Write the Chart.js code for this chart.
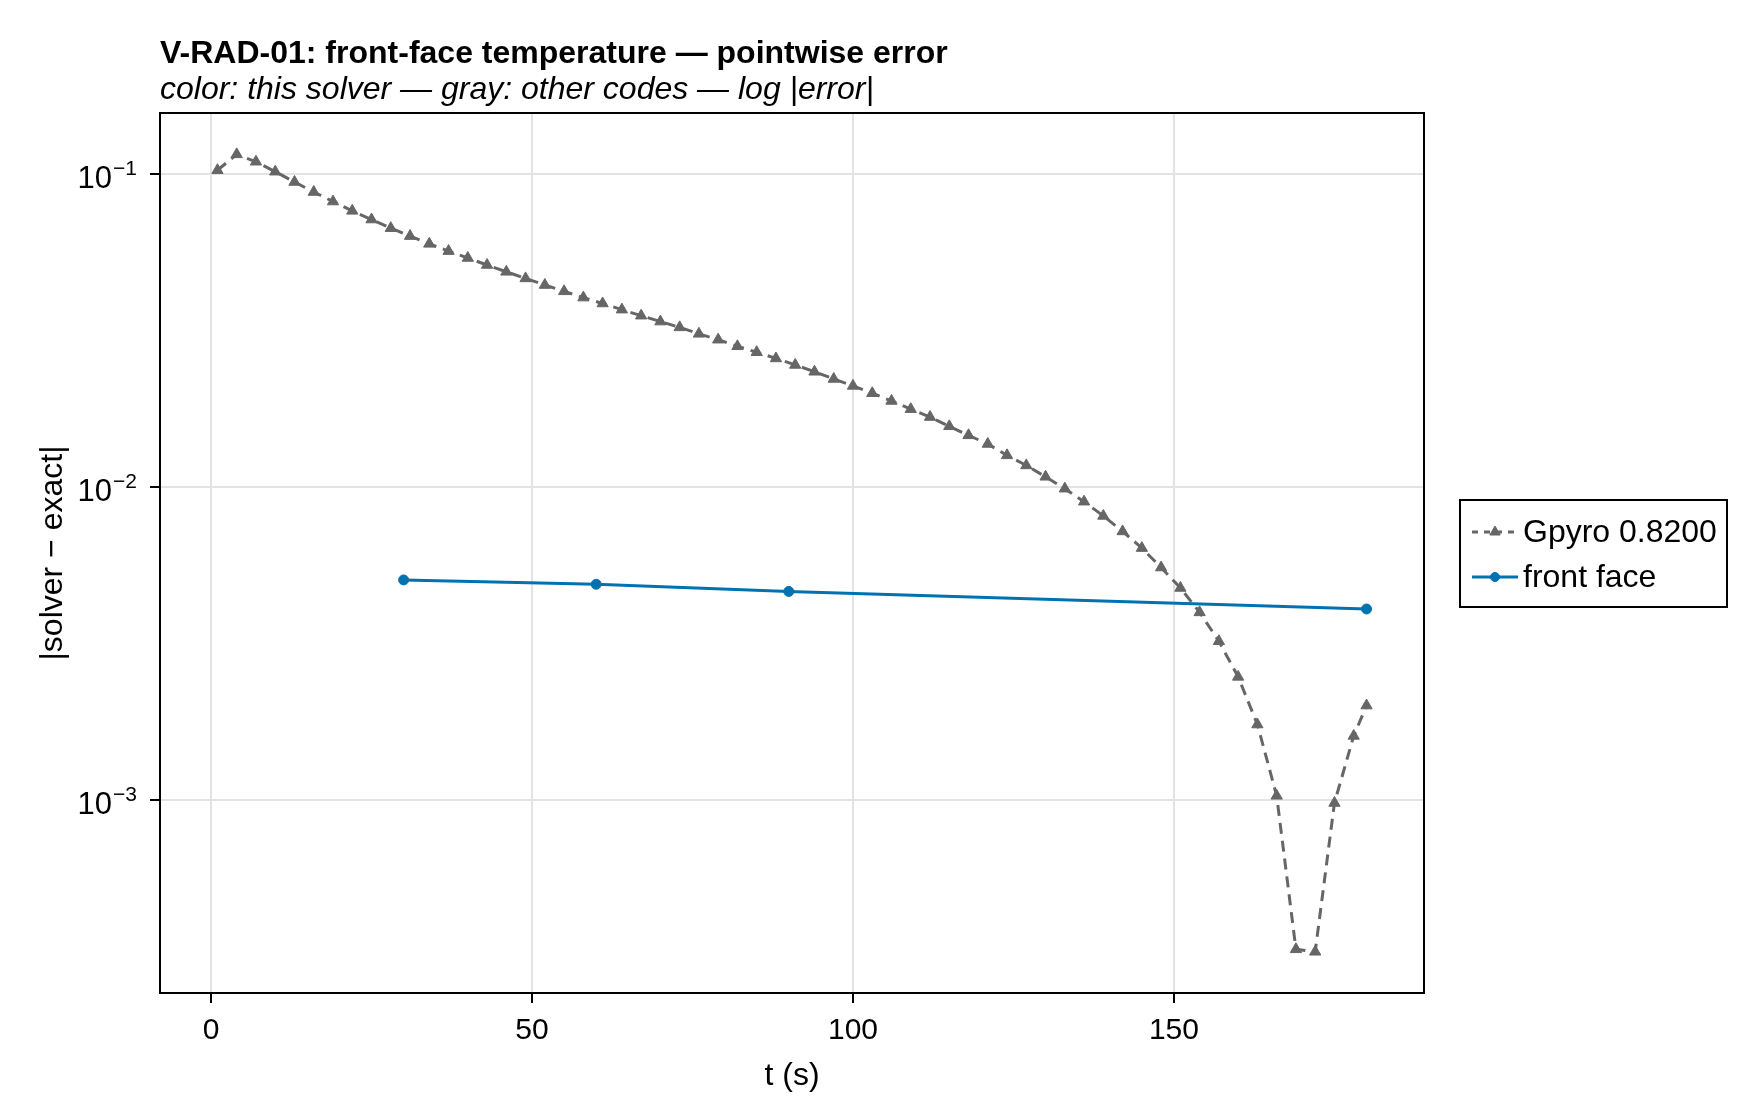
<!DOCTYPE html>
<html>
<head>
<meta charset="utf-8">
<title>V-RAD-01 front-face pointwise error</title>
<script src="https://cdn.jsdelivr.net/npm/chart.js@4.4.1/dist/chart.umd.min.js"></script>
<style>
  html, body { margin: 0; padding: 0; background: #fff; }
  canvas { display: block; }
</style>
</head>
<body>
<canvas id="errChart" width="1760" height="1120"></canvas>
<script>
// Gpyro 0.8200 reference code (gray, dashed, triangles)
const gpyroTime = [
    1, 4, 7, 10, 13, 16, 19, 22, 25, 28,
    31, 34, 37, 40, 43, 46, 49, 52, 55, 58,
    61, 64, 67, 70, 73, 76, 79, 82, 85, 88,
    91, 94, 97, 100, 103, 106, 109, 112, 115, 118,
    121, 124, 127, 130, 133, 136, 139, 142, 145, 148,
    151, 154, 157, 160, 163, 166, 169, 172, 175, 178,
    180
];
const gpyroError = [
    0.1026, 0.1153, 0.1092, 0.1015, 0.0941, 0.0874, 0.0815, 0.0761, 0.0714, 0.0670,
    0.0632, 0.0597, 0.0566, 0.0538, 0.0511, 0.0486, 0.0463, 0.0441, 0.0421, 0.0402,
    0.0385, 0.0368, 0.0352, 0.0337, 0.0323, 0.0308, 0.0295, 0.0281, 0.0269, 0.0257,
    0.0245, 0.0233, 0.0221, 0.0210, 0.0199, 0.0188, 0.0177, 0.0167, 0.0156, 0.0146,
    0.0137, 0.0126, 0.0117, 0.01076, 0.00986, 0.00896, 0.00807, 0.00720, 0.00637, 0.00552,
    0.00475, 0.00397, 0.00321, 0.00247, 0.00174, 0.00103, 0.000333, 0.000327, 0.000977, 0.00160,
    0.00200
];

// this solver, front face (blue)
const frontTime = [30, 60, 90, 180];
const frontError = [0.00504, 0.00488, 0.00463, 0.00407];

// axis ticks
const xTicks = [0, 50, 100, 150];
const yTickExponents = [-3, -2, -1];

const titleText = 'V-RAD-01: front-face temperature \u2014 pointwise error';
const subtitleText = 'color: this solver \u2014 gray: other codes \u2014 log |error|';
const xTitle = 't (s)';
const yTitle = '|solver \u2212 exact|';

const FONT = '"Liberation Sans", Arial, Helvetica, sans-serif';
const GRAY = '#666666';
const BLUE = '#0072b2';

const legendItems = [
    { label: 'Gpyro 0.8200', color: GRAY, dash: [6, 6], pointStyle: 'triangle', radius: 6 },
    { label: 'front face', color: BLUE, dash: [], pointStyle: 'circle', radius: 4.5 }
];

/**
 * Draws frame, titles, axis titles, 10^k tick labels and the legend box
 */
const decorations = {
    id: 'decorations',
    afterDraw(chart) {
        const { ctx, chartArea: a, scales } = chart;
        ctx.save();

        // Frame round the plot area
        ctx.strokeStyle = '#000';
        ctx.lineWidth = 2;
        ctx.setLineDash([]);
        ctx.strokeRect(a.left, a.top, a.right - a.left, a.bottom - a.top);

        // Title + subtitle
        ctx.fillStyle = '#000';
        ctx.textAlign = 'left';
        ctx.textBaseline = 'alphabetic';
        ctx.font = `bold 32px ${FONT}`;
        ctx.fillText(titleText, a.left, 63);
        ctx.font = `italic 32px ${FONT}`;
        ctx.fillText(subtitleText, a.left, 99);

        // Axis titles
        ctx.font = `32px ${FONT}`;
        ctx.textAlign = 'center';
        ctx.fillText(xTitle, (a.left + a.right) / 2, 1085);
        ctx.save();
        ctx.translate(53, (a.top + a.bottom) / 2);
        ctx.rotate(-Math.PI / 2);
        ctx.textBaseline = 'middle';
        ctx.fillText(yTitle, 0, 0);
        ctx.restore();

        // Y tick labels as 10 with superscript exponent
        ctx.textAlign = 'right';
        ctx.textBaseline = 'alphabetic';
        yTickExponents.forEach(k => {
            const py = scales.y.getPixelForValue(Math.pow(10, k));
            const sup = '\u2212' + Math.abs(k);
            ctx.font = `21px ${FONT}`;
            ctx.fillText(sup, 137, py + 1);
            const w = ctx.measureText(sup).width;
            ctx.font = `31px ${FONT}`;
            ctx.fillText('10', 137 - w - 1, py + 14);
        });

        // Legend
        const lx = 1460, ly = 500, lw = 267, lh = 107;
        ctx.fillStyle = '#fff';
        ctx.fillRect(lx, ly, lw, lh);
        ctx.strokeStyle = '#000';
        ctx.lineWidth = 2;
        ctx.strokeRect(lx, ly, lw, lh);
        legendItems.forEach((item, i) => {
            const cy = ly + 32 + i * 45;
            ctx.strokeStyle = item.color;
            ctx.fillStyle = item.color;
            ctx.lineWidth = 3;
            ctx.setLineDash(item.dash);
            ctx.beginPath();
            ctx.moveTo(lx + 12, cy);
            ctx.lineTo(lx + 58, cy);
            ctx.stroke();
            ctx.setLineDash([]);
            ctx.lineWidth = 1;
            Chart.helpers.drawPoint(ctx, {
                pointStyle: item.pointStyle, radius: item.radius, rotation: 0, borderWidth: 1
            }, lx + 35, cy);
            ctx.fillStyle = '#000';
            ctx.font = `32px ${FONT}`;
            ctx.textAlign = 'left';
            ctx.textBaseline = 'middle';
            ctx.fillText(item.label, lx + 63, cy + 1);
        });

        ctx.restore();
    }
};

const gridStyle = {
    color: '#e3e3e3',
    lineWidth: 2,
    drawTicks: true,
    tickLength: 10,
    tickColor: '#000',
    tickWidth: 2
};

new Chart(document.getElementById('errChart'), {
    type: 'line',
    data: {
        datasets: [
            {
                label: 'Gpyro 0.8200',
                data: gpyroTime.map((t, i) => ({ x: t, y: gpyroError[i] })),
                borderColor: GRAY,
                backgroundColor: GRAY,
                borderWidth: 3,
                borderDash: [11, 7],
                pointStyle: 'triangle',
                pointRadius: 6.5,
                pointBorderWidth: 1,
                pointBackgroundColor: GRAY,
                pointBorderColor: GRAY,
                tension: 0,
                fill: false
            },
            {
                label: 'front face',
                data: frontTime.map((t, i) => ({ x: t, y: frontError[i] })),
                borderColor: BLUE,
                backgroundColor: BLUE,
                borderWidth: 3,
                pointStyle: 'circle',
                pointRadius: 5,
                pointBorderWidth: 1,
                pointBackgroundColor: BLUE,
                pointBorderColor: BLUE,
                tension: 0,
                fill: false
            }
        ]
    },
    options: {
        responsive: false,
        animation: false,
        devicePixelRatio: 1,
        layout: { padding: { left: 0, top: 113, right: 336, bottom: 0 } },
        plugins: {
            legend: { display: false },
            title: { display: false },
            tooltip: { enabled: false }
        },
        scales: {
            x: {
                type: 'linear',
                min: -7.95,
                max: 188.95,
                afterBuildTicks: scale => { scale.ticks = xTicks.map(v => ({ value: v })); },
                afterFit: scale => { scale.height = 127; },
                grid: gridStyle,
                border: { display: false },
                ticks: {
                    font: { family: FONT, size: 30 },
                    color: '#000',
                    padding: 10,
                    maxRotation: 0,
                    callback: v => String(v)
                }
            },
            y: {
                type: 'logarithmic',
                min: 2.415e-4,
                max: 0.1563,
                afterBuildTicks: scale => {
                    scale.ticks = yTickExponents.map(k => ({ value: Math.pow(10, k) }));
                },
                afterFit: scale => { scale.width = 160; },
                grid: gridStyle,
                border: { display: false },
                ticks: { display: false }
            }
        }
    },
    plugins: [decorations]
});
</script>
</body>
</html>
